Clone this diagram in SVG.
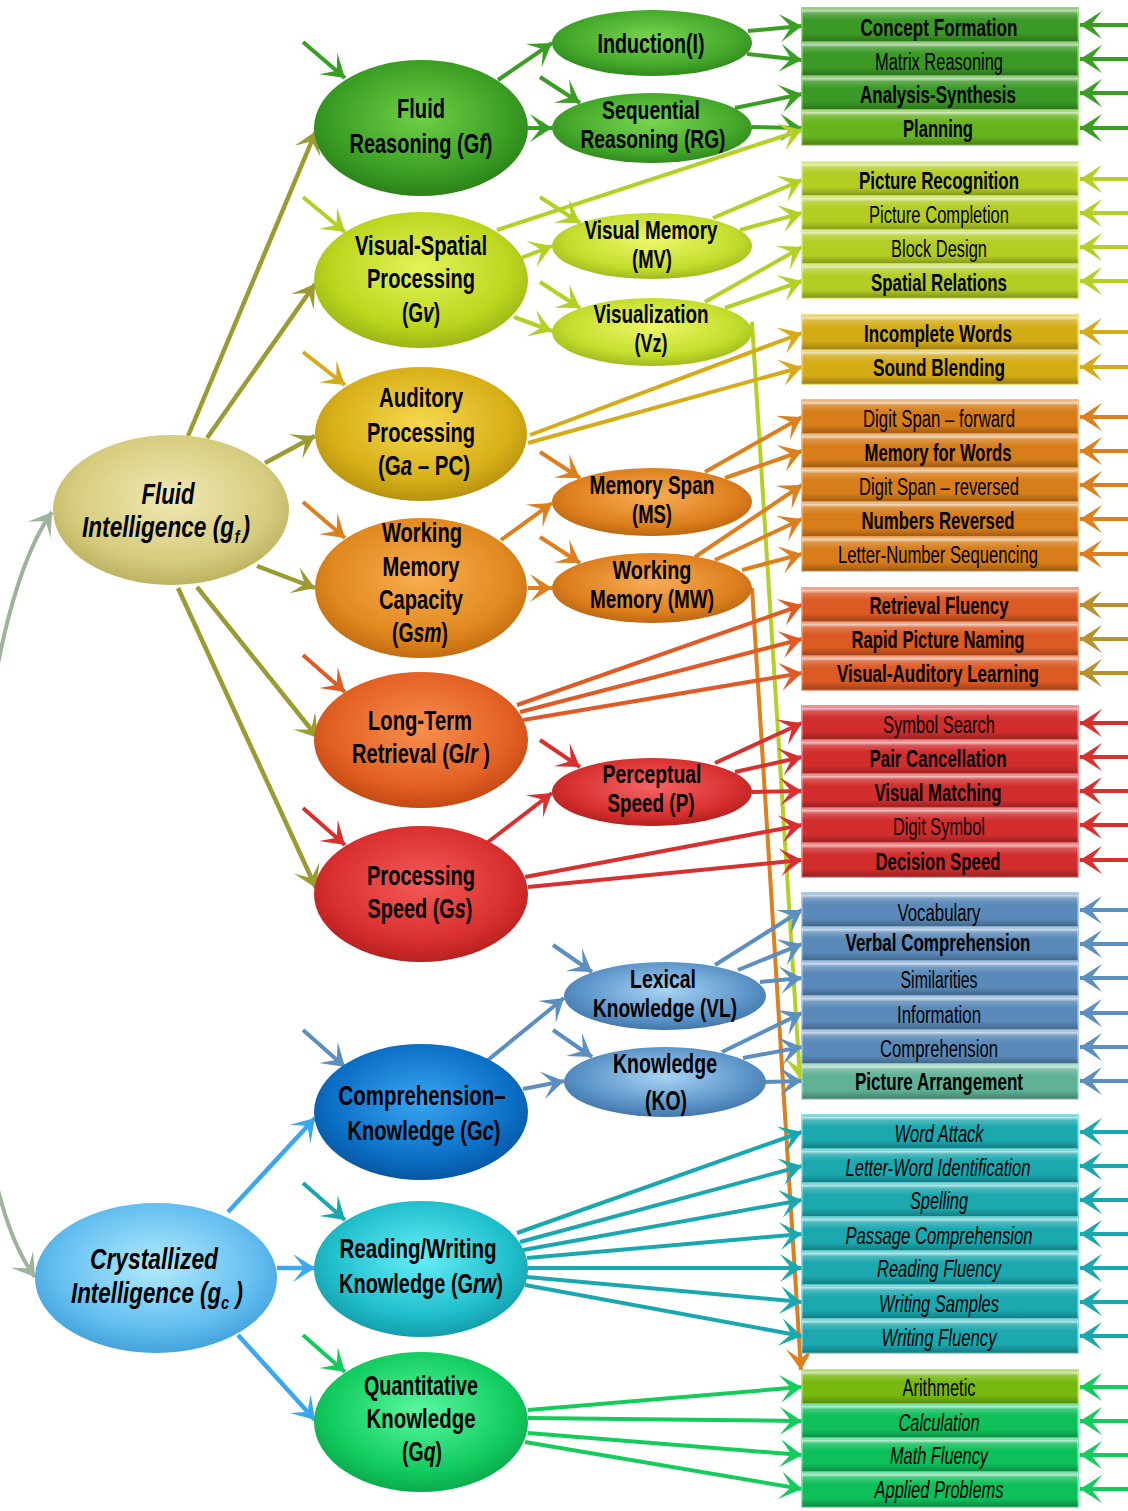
<svg xmlns="http://www.w3.org/2000/svg" width="1128" height="1511" viewBox="0 0 1128 1511">
<style>
  .c path{fill:none;stroke-width:4}
  .c path.k-olive,.c path.k-sky{stroke-width:4.5}
  .k-olive{stroke:#9a9c30;marker-end:url(#a-olive)}
  .k-sky{stroke:#3aa8ee;marker-end:url(#a-sky)}
  .k-gray{stroke:#9fb39c;marker-start:url(#a-gray);marker-end:url(#a-gray)}
  .k-green{stroke:#3a9e24;marker-end:url(#a-green)}
  .k-yg{stroke:#b5d024;marker-end:url(#a-yg)}
  .k-gold{stroke:#d5ac18;marker-end:url(#a-gold)}
  .k-orange{stroke:#dc7f1c;marker-end:url(#a-orange)}
  .k-ro{stroke:#e05a26;marker-end:url(#a-ro)}
  .k-red{stroke:#d8302e;marker-end:url(#a-red)}
  .k-steel{stroke:#5b8fc0;marker-end:url(#a-steel)}
  .k-teal{stroke:#1aa8b0;marker-end:url(#a-teal)}
  .k-green2{stroke:#14cc5c;marker-end:url(#a-green2)}
  .k-brass{stroke:#b8902c;marker-end:url(#a-brass)}
  .bx .b{stroke-width:1.5}
  .gl{fill:url(#gloss)}
  .green .b{fill:#3b9a26;stroke:#7cc85a}
  .lime .b{fill:#66b51e;stroke:#9ad85a}
  .yg .b{fill:#b4cd23;stroke:#d8ea6a}
  .gold .b{fill:#d4ac16;stroke:#ecd060}
  .orange .b{fill:#d77d19;stroke:#f0a860}
  .ro .b{fill:#dc5a23;stroke:#f08a60}
  .red .b{fill:#d22d2d;stroke:#f07070}
  .steel .b{fill:#5a8ab9;stroke:#94bce0}
  .sea .b{fill:#5fb296;stroke:#94d8c0}
  .teal .b{fill:#1ca8af;stroke:#64d4dc}
  .lime2 .b{fill:#78b90f;stroke:#aedc50}
  .green2 .b{fill:#0ec05a;stroke:#5ee09a}
  .t{font-family:"Liberation Sans",Arial,sans-serif;font-size:23px;text-anchor:middle;fill:#000}
  .bd{font-weight:bold}
  .it{font-style:italic}
  .lb{font-family:"Liberation Sans",Arial,sans-serif;font-weight:bold;font-size:28px;text-anchor:middle;fill:#000}
  .ln{font-family:"Liberation Sans",Arial,sans-serif;font-weight:bold;font-size:25px;text-anchor:middle;fill:#000}
  .lg{font-family:"Liberation Sans",Arial,sans-serif;font-weight:bold;font-style:italic;font-size:29px;text-anchor:middle;fill:#000}
  .lg.st{text-anchor:start}
  .sub{font-size:18px}
</style>
<defs>
  <linearGradient id="gloss" x1="0" y1="0" x2="0" y2="1">
    <stop offset="0" stop-color="#fff" stop-opacity="0.15"/>
    <stop offset="0.07" stop-color="#fff" stop-opacity="0.7"/>
    <stop offset="0.16" stop-color="#fff" stop-opacity="0.2"/>
    <stop offset="0.35" stop-color="#fff" stop-opacity="0"/>
    <stop offset="0.75" stop-color="#000" stop-opacity="0"/>
    <stop offset="1" stop-color="#000" stop-opacity="0.28"/>
  </linearGradient>
  <radialGradient id="g-gf" cx="0.5" cy="0.42" r="0.6"><stop offset="0" stop-color="#6fd046"/><stop offset="0.7" stop-color="#3a9e24"/><stop offset="1" stop-color="#2b7d18"/></radialGradient>
  <radialGradient id="g-gv" cx="0.5" cy="0.42" r="0.6"><stop offset="0" stop-color="#e4f45a"/><stop offset="0.7" stop-color="#bcd61e"/><stop offset="1" stop-color="#98b014"/></radialGradient>
  <radialGradient id="g-ga" cx="0.5" cy="0.42" r="0.6"><stop offset="0" stop-color="#f6d84e"/><stop offset="0.7" stop-color="#d8b018"/><stop offset="1" stop-color="#b38e0e"/></radialGradient>
  <radialGradient id="g-gsm" cx="0.5" cy="0.42" r="0.6"><stop offset="0" stop-color="#f8ae50"/><stop offset="0.7" stop-color="#e2891f"/><stop offset="1" stop-color="#bf6a10"/></radialGradient>
  <radialGradient id="g-glr" cx="0.5" cy="0.42" r="0.6"><stop offset="0" stop-color="#f8904e"/><stop offset="0.7" stop-color="#e36023"/><stop offset="1" stop-color="#c04612"/></radialGradient>
  <radialGradient id="g-gs" cx="0.5" cy="0.42" r="0.6"><stop offset="0" stop-color="#f45a58"/><stop offset="0.7" stop-color="#d9302e"/><stop offset="1" stop-color="#b31e1e"/></radialGradient>
  <radialGradient id="g-gc" cx="0.5" cy="0.42" r="0.6"><stop offset="0" stop-color="#3aa6f2"/><stop offset="0.7" stop-color="#0b6fc6"/><stop offset="1" stop-color="#07549e"/></radialGradient>
  <radialGradient id="g-grw" cx="0.5" cy="0.42" r="0.6"><stop offset="0" stop-color="#66eef8"/><stop offset="0.7" stop-color="#20bfcc"/><stop offset="1" stop-color="#1398a6"/></radialGradient>
  <radialGradient id="g-gq" cx="0.5" cy="0.42" r="0.6"><stop offset="0" stop-color="#5af8a0"/><stop offset="0.7" stop-color="#12cd60"/><stop offset="1" stop-color="#0aa64a"/></radialGradient>
  <radialGradient id="g-ni" cx="0.5" cy="0.42" r="0.6"><stop offset="0" stop-color="#78d650"/><stop offset="0.7" stop-color="#44a82a"/><stop offset="1" stop-color="#2f861c"/></radialGradient>
  <radialGradient id="g-nv" cx="0.5" cy="0.42" r="0.6"><stop offset="0" stop-color="#eef86a"/><stop offset="0.7" stop-color="#c4dd2c"/><stop offset="1" stop-color="#9db61c"/></radialGradient>
  <radialGradient id="g-nm" cx="0.5" cy="0.42" r="0.6"><stop offset="0" stop-color="#f7ad55"/><stop offset="0.7" stop-color="#de801e"/><stop offset="1" stop-color="#b96510"/></radialGradient>
  <radialGradient id="g-np" cx="0.5" cy="0.42" r="0.6"><stop offset="0" stop-color="#f76464"/><stop offset="0.7" stop-color="#d7302f"/><stop offset="1" stop-color="#b01f1f"/></radialGradient>
  <radialGradient id="g-nk" cx="0.5" cy="0.42" r="0.6"><stop offset="0" stop-color="#a8d4f4"/><stop offset="0.7" stop-color="#5b94c8"/><stop offset="1" stop-color="#3f73a6"/></radialGradient>
  <radialGradient id="g-gfi" cx="0.5" cy="0.42" r="0.6"><stop offset="0" stop-color="#f0e9b4"/><stop offset="0.7" stop-color="#d6cc7e"/><stop offset="1" stop-color="#b9ae5c"/></radialGradient>
  <radialGradient id="g-gci" cx="0.5" cy="0.42" r="0.6"><stop offset="0" stop-color="#b2ebfc"/><stop offset="0.7" stop-color="#62bef0"/><stop offset="1" stop-color="#3f9fd8"/></radialGradient>
  <marker id="a-olive" viewBox="-24 -16 26 32" refX="0" refY="0" markerWidth="26" markerHeight="32" markerUnits="userSpaceOnUse" orient="auto"><path d="M0,0 L-22,-14 L-11,0 L-22,14 Z" fill="#9a9c30"/></marker>
  <marker id="a-sky" viewBox="-24 -16 26 32" refX="0" refY="0" markerWidth="26" markerHeight="32" markerUnits="userSpaceOnUse" orient="auto"><path d="M0,0 L-22,-14 L-11,0 L-22,14 Z" fill="#3aa8ee"/></marker>
  <marker id="a-gray" viewBox="-24 -16 26 32" refX="0" refY="0" markerWidth="26" markerHeight="32" markerUnits="userSpaceOnUse" orient="auto-start-reverse"><path d="M0,0 L-22,-14 L-11,0 L-22,14 Z" fill="#9fb39c"/></marker>
  <marker id="a-green" viewBox="-24 -16 26 32" refX="0" refY="0" markerWidth="26" markerHeight="32" markerUnits="userSpaceOnUse" orient="auto"><path d="M0,0 L-22,-14 L-11,0 L-22,14 Z" fill="#3a9e24"/></marker>
  <marker id="a-yg" viewBox="-24 -16 26 32" refX="0" refY="0" markerWidth="26" markerHeight="32" markerUnits="userSpaceOnUse" orient="auto"><path d="M0,0 L-22,-14 L-11,0 L-22,14 Z" fill="#b5d024"/></marker>
  <marker id="a-gold" viewBox="-24 -16 26 32" refX="0" refY="0" markerWidth="26" markerHeight="32" markerUnits="userSpaceOnUse" orient="auto"><path d="M0,0 L-22,-14 L-11,0 L-22,14 Z" fill="#d5ac18"/></marker>
  <marker id="a-orange" viewBox="-24 -16 26 32" refX="0" refY="0" markerWidth="26" markerHeight="32" markerUnits="userSpaceOnUse" orient="auto"><path d="M0,0 L-22,-14 L-11,0 L-22,14 Z" fill="#dc7f1c"/></marker>
  <marker id="a-ro" viewBox="-24 -16 26 32" refX="0" refY="0" markerWidth="26" markerHeight="32" markerUnits="userSpaceOnUse" orient="auto"><path d="M0,0 L-22,-14 L-11,0 L-22,14 Z" fill="#e05a26"/></marker>
  <marker id="a-red" viewBox="-24 -16 26 32" refX="0" refY="0" markerWidth="26" markerHeight="32" markerUnits="userSpaceOnUse" orient="auto"><path d="M0,0 L-22,-14 L-11,0 L-22,14 Z" fill="#d8302e"/></marker>
  <marker id="a-steel" viewBox="-24 -16 26 32" refX="0" refY="0" markerWidth="26" markerHeight="32" markerUnits="userSpaceOnUse" orient="auto"><path d="M0,0 L-22,-14 L-11,0 L-22,14 Z" fill="#5b8fc0"/></marker>
  <marker id="a-teal" viewBox="-24 -16 26 32" refX="0" refY="0" markerWidth="26" markerHeight="32" markerUnits="userSpaceOnUse" orient="auto"><path d="M0,0 L-22,-14 L-11,0 L-22,14 Z" fill="#1aa8b0"/></marker>
  <marker id="a-green2" viewBox="-24 -16 26 32" refX="0" refY="0" markerWidth="26" markerHeight="32" markerUnits="userSpaceOnUse" orient="auto"><path d="M0,0 L-22,-14 L-11,0 L-22,14 Z" fill="#14cc5c"/></marker>
  <marker id="a-brass" viewBox="-24 -16 26 32" refX="0" refY="0" markerWidth="26" markerHeight="32" markerUnits="userSpaceOnUse" orient="auto"><path d="M0,0 L-22,-14 L-11,0 L-22,14 Z" fill="#b8902c"/></marker>
</defs>
<rect width="1128" height="1511" fill="#fff"/>

<g id="connectors" class="c">
  <!-- link between the two general factors -->
  <path class="k-gray" d="M52,512 C-40,640 -60,1150 35,1277"/>
  <!-- gf to broad abilities -->
  <path class="k-olive" d="M188,436 L316,131"/>
  <path class="k-olive" d="M207,438 L315,284"/>
  <path class="k-olive" d="M265,463 L315,436"/>
  <path class="k-olive" d="M257,566 L315,588"/>
  <path class="k-olive" d="M197,587 L318,738"/>
  <path class="k-olive" d="M178,588 L316,888"/>
  <!-- gc to broad abilities -->
  <path class="k-sky" d="M228,1212 L315,1118"/>
  <path class="k-sky" d="M277,1268 L315,1268"/>
  <path class="k-sky" d="M238,1335 L315,1420"/>
  <!-- short inputs on broad abilities -->
  <path class="k-green" d="M303,42 L345,78"/>
  <path class="k-yg" d="M303,197 L345,232"/>
  <path class="k-gold" d="M303,352 L345,385"/>
  <path class="k-orange" d="M303,502 L345,538"/>
  <path class="k-ro" d="M303,655 L345,692"/>
  <path class="k-red" d="M303,808 L345,845"/>
  <path class="k-steel" d="M303,1030 L345,1067"/>
  <path class="k-teal" d="M303,1183 L345,1220"/>
  <path class="k-green2" d="M303,1335 L345,1372"/>
  <!-- short inputs on narrow abilities -->
  <path class="k-green" d="M540,77 L580,103"/>
  <path class="k-yg" d="M540,197 L580,223"/>
  <path class="k-yg" d="M540,282 L580,308"/>
  <path class="k-orange" d="M540,452 L580,478"/>
  <path class="k-orange" d="M540,537 L580,563"/>
  <path class="k-red" d="M540,740 L580,767"/>
  <path class="k-steel" d="M553,945 L592,972"/>
  <path class="k-steel" d="M553,1030 L592,1057"/>
  <!-- broad to narrow abilities -->
  <path class="k-green" d="M498,80 L552,43"/>
  <path class="k-green" d="M528,128 L552,128"/>
  <path class="k-yg" d="M521,258 L552,246"/>
  <path class="k-yg" d="M514,317 L552,331"/>
  <path class="k-orange" d="M501,540 L552,503"/>
  <path class="k-orange" d="M528,588 L552,588"/>
  <path class="k-red" d="M488,842 L552,793"/>
  <path class="k-steel" d="M488,1060 L564,998"/>
  <path class="k-steel" d="M523,1089 L564,1081"/>
  <!-- abilities to tests -->
  <path class="k-green" d="M748,31 L802,26"/>
  <path class="k-green" d="M747,54 L802,60"/>
  <path class="k-green" d="M735,108 L802,94"/>
  <path class="k-green" d="M752,127 L802,128"/>
  <path class="k-yg" d="M497,230 L802,130"/>
  <path class="k-yg" d="M713,218 L802,180"/>
  <path class="k-yg" d="M740,230 L802,213"/>
  <path class="k-yg" d="M705,302 L802,247"/>
  <path class="k-yg" d="M725,308 L802,281"/>
  <path class="k-yg" d="M752,322 L800,1079"/>
  <path class="k-gold" d="M530,435 L802,333"/>
  <path class="k-gold" d="M528,443 L802,367"/>
  <path class="k-orange" d="M705,472 L802,417"/>
  <path class="k-orange" d="M725,478 L802,451"/>
  <path class="k-orange" d="M695,557 L802,485"/>
  <path class="k-orange" d="M715,560 L802,519"/>
  <path class="k-orange" d="M742,570 L802,554"/>
  <path class="k-orange" d="M752,588 L801,1370"/>
  <path class="k-ro" d="M517,705 L802,605"/>
  <path class="k-ro" d="M520,712 L802,639"/>
  <path class="k-ro" d="M523,720 L802,673"/>
  <path class="k-red" d="M715,763 L802,723"/>
  <path class="k-red" d="M735,772 L802,757"/>
  <path class="k-red" d="M752,792 L802,791"/>
  <path class="k-red" d="M525,877 L802,825"/>
  <path class="k-red" d="M528,887 L802,860"/>
  <path class="k-steel" d="M715,965 L802,910"/>
  <path class="k-steel" d="M738,970 L802,944"/>
  <path class="k-steel" d="M760,982 L802,978"/>
  <path class="k-steel" d="M722,1052 L802,1013"/>
  <path class="k-steel" d="M743,1058 L802,1047"/>
  <path class="k-steel" d="M765,1082 L802,1081"/>
  <path class="k-teal" d="M517,1233 L802,1132"/>
  <path class="k-teal" d="M520,1242 L802,1166"/>
  <path class="k-teal" d="M523,1250 L802,1200"/>
  <path class="k-teal" d="M527,1258 L802,1234"/>
  <path class="k-teal" d="M528,1268 L802,1268"/>
  <path class="k-teal" d="M527,1277 L802,1302"/>
  <path class="k-teal" d="M525,1285 L802,1336"/>
  <path class="k-green2" d="M528,1410 L802,1387"/>
  <path class="k-green2" d="M528,1418 L802,1421"/>
  <path class="k-green2" d="M528,1433 L802,1455"/>
  <path class="k-green2" d="M525,1442 L802,1489"/>
  <!-- error terms on the tests -->
  <path class="k-green" d="M1128,25 L1080,25"/>
  <path class="k-green" d="M1128,59 L1080,59"/>
  <path class="k-green" d="M1128,93 L1080,93"/>
  <path class="k-green" d="M1128,128 L1080,128"/>
  <path class="k-yg" d="M1128,179 L1080,179"/>
  <path class="k-yg" d="M1128,213 L1080,213"/>
  <path class="k-yg" d="M1128,247 L1080,247"/>
  <path class="k-yg" d="M1128,281 L1080,281"/>
  <path class="k-gold" d="M1128,332 L1080,332"/>
  <path class="k-gold" d="M1128,367 L1080,367"/>
  <path class="k-orange" d="M1128,417 L1080,417"/>
  <path class="k-orange" d="M1128,451 L1080,451"/>
  <path class="k-orange" d="M1128,485 L1080,485"/>
  <path class="k-orange" d="M1128,519 L1080,519"/>
  <path class="k-orange" d="M1128,554 L1080,554"/>
  <path class="k-brass" d="M1128,605 L1080,605"/>
  <path class="k-brass" d="M1128,639 L1080,639"/>
  <path class="k-brass" d="M1128,673 L1080,673"/>
  <path class="k-red" d="M1128,723 L1080,723"/>
  <path class="k-red" d="M1128,757 L1080,757"/>
  <path class="k-red" d="M1128,791 L1080,791"/>
  <path class="k-red" d="M1128,825 L1080,825"/>
  <path class="k-red" d="M1128,860 L1080,860"/>
  <path class="k-steel" d="M1128,910 L1080,910"/>
  <path class="k-steel" d="M1128,944 L1080,944"/>
  <path class="k-steel" d="M1128,978 L1080,978"/>
  <path class="k-steel" d="M1128,1013 L1080,1013"/>
  <path class="k-steel" d="M1128,1047 L1080,1047"/>
  <path class="k-steel" d="M1128,1081 L1080,1081"/>
  <path class="k-teal" d="M1128,1132 L1080,1132"/>
  <path class="k-teal" d="M1128,1166 L1080,1166"/>
  <path class="k-teal" d="M1128,1200 L1080,1200"/>
  <path class="k-teal" d="M1128,1234 L1080,1234"/>
  <path class="k-teal" d="M1128,1268 L1080,1268"/>
  <path class="k-teal" d="M1128,1302 L1080,1302"/>
  <path class="k-teal" d="M1128,1336 L1080,1336"/>
  <path class="k-green2" d="M1128,1387 L1080,1387"/>
  <path class="k-green2" d="M1128,1421 L1080,1421"/>
  <path class="k-green2" d="M1128,1455 L1080,1455"/>
  <path class="k-green2" d="M1128,1489 L1080,1489"/>
</g>

<!-- general factors -->
<g id="fluid-intelligence">
  <ellipse cx="171" cy="510" rx="118" ry="75" fill="url(#g-gfi)"/>
  <text class="lg" x="168" y="504" textLength="53" lengthAdjust="spacingAndGlyphs">Fluid</text>
  <text class="lg st" transform="translate(82,537) scale(0.78,1)">Intelligence (g<tspan class="sub" dy="6" dx="1">f</tspan><tspan dy="-6" dx="4">)</tspan></text>
</g>
<g id="crystallized-intelligence">
  <ellipse cx="156" cy="1278" rx="121" ry="75" fill="url(#g-gci)"/>
  <text class="lg" x="154" y="1269" textLength="128" lengthAdjust="spacingAndGlyphs">Crystallized</text>
  <text class="lg st" transform="translate(71,1303) scale(0.77,1)">Intelligence (g<tspan class="sub" dy="6" style="font-size:19px">c</tspan><tspan dy="-6"> )</tspan></text>
</g>

<!-- broad abilities -->
<g id="fluid-reasoning">
  <ellipse cx="421" cy="128" rx="107" ry="68" fill="url(#g-gf)"/>
  <text class="lb" x="421" y="118" textLength="48" lengthAdjust="spacingAndGlyphs">Fluid</text>
  <text class="lb" transform="translate(421,153) scale(0.713,1)">Reasoning (G<tspan class="it">f</tspan>)</text>
</g>
<g id="visual-spatial-processing">
  <ellipse cx="421" cy="280" rx="107" ry="68" fill="url(#g-gv)"/>
  <text class="lb" x="421" y="255" textLength="132" lengthAdjust="spacingAndGlyphs">Visual-Spatial</text>
  <text class="lb" x="421" y="288" textLength="108" lengthAdjust="spacingAndGlyphs">Processing</text>
  <text class="lb" transform="translate(421,322) scale(0.68,1)">(G<tspan class="it">v</tspan>)</text>
</g>
<g id="auditory-processing">
  <ellipse cx="421" cy="434" rx="106" ry="67" fill="url(#g-ga)"/>
  <text class="lb" x="421" y="407" textLength="84" lengthAdjust="spacingAndGlyphs">Auditory</text>
  <text class="lb" x="421" y="442" textLength="108" lengthAdjust="spacingAndGlyphs">Processing</text>
  <text class="lb" transform="translate(424,475) scale(0.73,1)">(G<tspan class="it">a</tspan> – PC)</text>
</g>
<g id="working-memory-capacity">
  <ellipse cx="421" cy="588" rx="106" ry="70" fill="url(#g-gsm)"/>
  <text class="lb" x="422" y="542" textLength="80" lengthAdjust="spacingAndGlyphs">Working</text>
  <text class="lb" x="421" y="576" textLength="77" lengthAdjust="spacingAndGlyphs">Memory</text>
  <text class="lb" x="421" y="609" textLength="84" lengthAdjust="spacingAndGlyphs">Capacity</text>
  <text class="lb" transform="translate(420,642) scale(0.692,1)">(G<tspan class="it">sm</tspan>)</text>
</g>
<g id="long-term-retrieval">
  <ellipse cx="421" cy="740" rx="107" ry="68" fill="url(#g-glr)"/>
  <text class="lb" x="420" y="730" textLength="104" lengthAdjust="spacingAndGlyphs">Long-Term</text>
  <text class="lb" transform="translate(421,763) scale(0.715,1)">Retrieval (G<tspan class="it">lr</tspan> )</text>
</g>
<g id="processing-speed">
  <ellipse cx="421" cy="894" rx="107" ry="68" fill="url(#g-gs)"/>
  <text class="lb" x="421" y="885" textLength="108" lengthAdjust="spacingAndGlyphs">Processing</text>
  <text class="lb" transform="translate(420,918) scale(0.71,1)">Speed (G<tspan class="it">s</tspan>)</text>
</g>
<g id="comprehension-knowledge">
  <ellipse cx="421" cy="1112" rx="107" ry="68" fill="url(#g-gc)"/>
  <text class="lb" x="422" y="1105" textLength="167" lengthAdjust="spacingAndGlyphs">Comprehension–</text>
  <text class="lb" transform="translate(424,1140) scale(0.718,1)">Knowledge (G<tspan class="it">c</tspan>)</text>
</g>
<g id="reading-writing-knowledge">
  <ellipse cx="421" cy="1269" rx="107" ry="68" fill="url(#g-grw)"/>
  <text class="lb" x="418" y="1258" textLength="157" lengthAdjust="spacingAndGlyphs">Reading/Writing</text>
  <text class="lb" transform="translate(421,1293) scale(0.712,1)">Knowledge (G<tspan class="it">rw</tspan>)</text>
</g>
<g id="quantitative-knowledge">
  <ellipse cx="421" cy="1422" rx="107" ry="70" fill="url(#g-gq)"/>
  <text class="lb" x="421" y="1395" textLength="114" lengthAdjust="spacingAndGlyphs">Quantitative</text>
  <text class="lb" x="421" y="1428" textLength="109" lengthAdjust="spacingAndGlyphs">Knowledge</text>
  <text class="lb" transform="translate(422,1461) scale(0.695,1)">(G<tspan class="it">q</tspan>)</text>
</g>

<!-- narrow abilities -->
<g id="induction">
  <ellipse cx="652" cy="43" rx="100" ry="33" fill="url(#g-ni)"/>
  <text class="ln" x="651" y="53" textLength="107" lengthAdjust="spacingAndGlyphs" style="font-size:27px">Induction(I)</text>
</g>
<g id="sequential-reasoning">
  <ellipse cx="652" cy="128" rx="100" ry="35" fill="url(#g-ni)"/>
  <text class="ln" x="651" y="119" textLength="98" lengthAdjust="spacingAndGlyphs">Sequential</text>
  <text class="ln" x="653" y="148" textLength="145" lengthAdjust="spacingAndGlyphs">Reasoning (RG)</text>
</g>
<g id="visual-memory">
  <ellipse cx="652" cy="246" rx="100" ry="33" fill="url(#g-nv)"/>
  <text class="ln" x="651" y="239" textLength="133" lengthAdjust="spacingAndGlyphs">Visual Memory</text>
  <text class="ln" x="652" y="268" textLength="40" lengthAdjust="spacingAndGlyphs">(MV)</text>
</g>
<g id="visualization">
  <ellipse cx="652" cy="332" rx="100" ry="34" fill="url(#g-nv)"/>
  <text class="ln" x="651" y="323" textLength="115" lengthAdjust="spacingAndGlyphs">Visualization</text>
  <text class="ln" x="651" y="352" textLength="33" lengthAdjust="spacingAndGlyphs">(Vz)</text>
</g>
<g id="memory-span">
  <ellipse cx="652" cy="502" rx="100" ry="34" fill="url(#g-nm)"/>
  <text class="ln" x="652" y="494" textLength="125" lengthAdjust="spacingAndGlyphs">Memory Span</text>
  <text class="ln" x="652" y="523" textLength="40" lengthAdjust="spacingAndGlyphs">(MS)</text>
</g>
<g id="working-memory">
  <ellipse cx="652" cy="588" rx="100" ry="35" fill="url(#g-nm)"/>
  <text class="ln" x="652" y="579" textLength="79" lengthAdjust="spacingAndGlyphs">Working</text>
  <text class="ln" x="652" y="608" textLength="124" lengthAdjust="spacingAndGlyphs">Memory (MW)</text>
</g>
<g id="perceptual-speed">
  <ellipse cx="652" cy="792" rx="100" ry="34" fill="url(#g-np)"/>
  <text class="ln" x="652" y="783" textLength="99" lengthAdjust="spacingAndGlyphs">Perceptual</text>
  <text class="ln" x="651" y="812" textLength="87" lengthAdjust="spacingAndGlyphs">Speed (P)</text>
</g>
<g id="lexical-knowledge">
  <ellipse cx="665" cy="996" rx="101" ry="34" fill="url(#g-nk)"/>
  <text class="ln" x="663" y="988" textLength="66" lengthAdjust="spacingAndGlyphs">Lexical</text>
  <text class="ln" x="665" y="1017" textLength="144" lengthAdjust="spacingAndGlyphs">Knowledge (VL)</text>
</g>
<g id="general-knowledge">
  <ellipse cx="665" cy="1082" rx="101" ry="35" fill="url(#g-nk)"/>
  <text class="ln" x="665" y="1073" textLength="104" lengthAdjust="spacingAndGlyphs" style="font-size:27px">Knowledge</text>
  <text class="ln" x="666" y="1110" textLength="42" lengthAdjust="spacingAndGlyphs" style="font-size:27px">(KO)</text>
</g>

<!-- tests -->
<g id="t-concept-formation" class="bx green"><rect class="b" x="802" y="8" width="276" height="34"/><rect class="gl" x="802" y="8" width="276" height="34"/><text class="t bd" x="939" y="36" textLength="157" lengthAdjust="spacingAndGlyphs">Concept Formation</text></g>
<g id="t-matrix-reasoning" class="bx green"><rect class="b" x="802" y="42" width="276" height="34"/><rect class="gl" x="802" y="42" width="276" height="34"/><text class="t" x="939" y="70" textLength="128" lengthAdjust="spacingAndGlyphs">Matrix Reasoning</text></g>
<g id="t-analysis-synthesis" class="bx green"><rect class="b" x="802" y="76" width="276" height="34"/><rect class="gl" x="802" y="76" width="276" height="34"/><text class="t bd" x="938" y="103" textLength="156" lengthAdjust="spacingAndGlyphs">Analysis-Synthesis</text></g>
<g id="t-planning" class="bx lime"><rect class="b" x="802" y="110" width="276" height="35"/><rect class="gl" x="802" y="110" width="276" height="35"/><text class="t bd" x="938" y="137" textLength="70" lengthAdjust="spacingAndGlyphs">Planning</text></g>

<g id="t-picture-recognition" class="bx yg"><rect class="b" x="802" y="162" width="276" height="34"/><rect class="gl" x="802" y="162" width="276" height="34"/><text class="t bd" x="939" y="189" textLength="160" lengthAdjust="spacingAndGlyphs">Picture Recognition</text></g>
<g id="t-picture-completion" class="bx yg"><rect class="b" x="802" y="196" width="276" height="34"/><rect class="gl" x="802" y="196" width="276" height="34"/><text class="t" x="939" y="223" textLength="140" lengthAdjust="spacingAndGlyphs">Picture Completion</text></g>
<g id="t-block-design" class="bx yg"><rect class="b" x="802" y="230" width="276" height="34"/><rect class="gl" x="802" y="230" width="276" height="34"/><text class="t" x="939" y="257" textLength="96" lengthAdjust="spacingAndGlyphs">Block Design</text></g>
<g id="t-spatial-relations" class="bx yg"><rect class="b" x="802" y="264" width="276" height="34"/><rect class="gl" x="802" y="264" width="276" height="34"/><text class="t bd" x="939" y="291" textLength="136" lengthAdjust="spacingAndGlyphs">Spatial Relations</text></g>

<g id="t-incomplete-words" class="bx gold"><rect class="b" x="802" y="315" width="276" height="35"/><rect class="gl" x="802" y="315" width="276" height="35"/><text class="t bd" x="938" y="342" textLength="148" lengthAdjust="spacingAndGlyphs">Incomplete Words</text></g>
<g id="t-sound-blending" class="bx gold"><rect class="b" x="802" y="350" width="276" height="34"/><rect class="gl" x="802" y="350" width="276" height="34"/><text class="t bd" x="939" y="376" textLength="132" lengthAdjust="spacingAndGlyphs">Sound Blending</text></g>

<g id="t-digit-span-forward" class="bx orange"><rect class="b" x="802" y="400" width="276" height="34"/><rect class="gl" x="802" y="400" width="276" height="34"/><text class="t" x="939" y="427" textLength="152" lengthAdjust="spacingAndGlyphs">Digit Span – forward</text></g>
<g id="t-memory-for-words" class="bx orange"><rect class="b" x="802" y="434" width="276" height="34"/><rect class="gl" x="802" y="434" width="276" height="34"/><text class="t bd" x="938" y="461" textLength="147" lengthAdjust="spacingAndGlyphs">Memory for Words</text></g>
<g id="t-digit-span-reversed" class="bx orange"><rect class="b" x="802" y="468" width="276" height="34"/><rect class="gl" x="802" y="468" width="276" height="34"/><text class="t" x="939" y="495" textLength="160" lengthAdjust="spacingAndGlyphs">Digit Span – reversed</text></g>
<g id="t-numbers-reversed" class="bx orange"><rect class="b" x="802" y="502" width="276" height="35"/><rect class="gl" x="802" y="502" width="276" height="35"/><text class="t bd" x="938" y="529" textLength="153" lengthAdjust="spacingAndGlyphs">Numbers Reversed</text></g>
<g id="t-letter-number-sequencing" class="bx orange"><rect class="b" x="802" y="537" width="276" height="34"/><rect class="gl" x="802" y="537" width="276" height="34"/><text class="t" x="938" y="563" textLength="200" lengthAdjust="spacingAndGlyphs">Letter-Number Sequencing</text></g>

<g id="t-retrieval-fluency" class="bx ro"><rect class="b" x="802" y="588" width="276" height="34"/><rect class="gl" x="802" y="588" width="276" height="34"/><text class="t bd" x="939" y="614" textLength="139" lengthAdjust="spacingAndGlyphs">Retrieval Fluency</text></g>
<g id="t-rapid-picture-naming" class="bx ro"><rect class="b" x="802" y="622" width="276" height="34"/><rect class="gl" x="802" y="622" width="276" height="34"/><text class="t bd" x="938" y="648" textLength="173" lengthAdjust="spacingAndGlyphs">Rapid Picture Naming</text></g>
<g id="t-visual-auditory-learning" class="bx ro"><rect class="b" x="802" y="656" width="276" height="34"/><rect class="gl" x="802" y="656" width="276" height="34"/><text class="t bd" x="938" y="682" textLength="202" lengthAdjust="spacingAndGlyphs">Visual-Auditory Learning</text></g>

<g id="t-symbol-search" class="bx red"><rect class="b" x="802" y="706" width="276" height="34"/><rect class="gl" x="802" y="706" width="276" height="34"/><text class="t" x="939" y="733" textLength="112" lengthAdjust="spacingAndGlyphs">Symbol Search</text></g>
<g id="t-pair-cancellation" class="bx red"><rect class="b" x="802" y="740" width="276" height="34"/><rect class="gl" x="802" y="740" width="276" height="34"/><text class="t bd" x="938" y="767" textLength="137" lengthAdjust="spacingAndGlyphs">Pair Cancellation</text></g>
<g id="t-visual-matching" class="bx red"><rect class="b" x="802" y="774" width="276" height="34"/><rect class="gl" x="802" y="774" width="276" height="34"/><text class="t bd" x="938" y="801" textLength="127" lengthAdjust="spacingAndGlyphs">Visual Matching</text></g>
<g id="t-digit-symbol" class="bx red"><rect class="b" x="802" y="808" width="276" height="35"/><rect class="gl" x="802" y="808" width="276" height="35"/><text class="t" x="939" y="835" textLength="92" lengthAdjust="spacingAndGlyphs">Digit Symbol</text></g>
<g id="t-decision-speed" class="bx red"><rect class="b" x="802" y="843" width="276" height="34"/><rect class="gl" x="802" y="843" width="276" height="34"/><text class="t bd" x="938" y="870" textLength="125" lengthAdjust="spacingAndGlyphs">Decision Speed</text></g>

<g id="t-vocabulary" class="bx steel"><rect class="b" x="802" y="893" width="276" height="34"/><rect class="gl" x="802" y="893" width="276" height="34"/><text class="t" x="939" y="921" textLength="83" lengthAdjust="spacingAndGlyphs">Vocabulary</text></g>
<g id="t-verbal-comprehension" class="bx steel"><rect class="b" x="802" y="927" width="276" height="34"/><rect class="gl" x="802" y="927" width="276" height="34"/><text class="t bd" x="938" y="951" textLength="185" lengthAdjust="spacingAndGlyphs">Verbal Comprehension</text></g>
<g id="t-similarities" class="bx steel"><rect class="b" x="802" y="961" width="276" height="35"/><rect class="gl" x="802" y="961" width="276" height="35"/><text class="t" x="939" y="988" textLength="77" lengthAdjust="spacingAndGlyphs">Similarities</text></g>
<g id="t-information" class="bx steel"><rect class="b" x="802" y="996" width="276" height="34"/><rect class="gl" x="802" y="996" width="276" height="34"/><text class="t" x="939" y="1023" textLength="84" lengthAdjust="spacingAndGlyphs">Information</text></g>
<g id="t-comprehension" class="bx steel"><rect class="b" x="802" y="1030" width="276" height="34"/><rect class="gl" x="802" y="1030" width="276" height="34"/><text class="t" x="939" y="1057" textLength="118" lengthAdjust="spacingAndGlyphs">Comprehension</text></g>
<g id="t-picture-arrangement" class="bx sea"><rect class="b" x="802" y="1064" width="276" height="35"/><rect class="gl" x="802" y="1064" width="276" height="35"/><text class="t bd" x="939" y="1090" textLength="168" lengthAdjust="spacingAndGlyphs">Picture Arrangement</text></g>

<g id="t-word-attack" class="bx teal"><rect class="b" x="802" y="1115" width="276" height="34"/><rect class="gl" x="802" y="1115" width="276" height="34"/><text class="t it" x="939" y="1142" textLength="89" lengthAdjust="spacingAndGlyphs">Word Attack</text></g>
<g id="t-letter-word-identification" class="bx teal"><rect class="b" x="802" y="1149" width="276" height="34"/><rect class="gl" x="802" y="1149" width="276" height="34"/><text class="t it" x="938" y="1176" textLength="185" lengthAdjust="spacingAndGlyphs">Letter-Word Identification</text></g>
<g id="t-spelling" class="bx teal"><rect class="b" x="802" y="1183" width="276" height="34"/><rect class="gl" x="802" y="1183" width="276" height="34"/><text class="t it" x="939" y="1209" textLength="58" lengthAdjust="spacingAndGlyphs">Spelling</text></g>
<g id="t-passage-comprehension" class="bx teal"><rect class="b" x="802" y="1217" width="276" height="34"/><rect class="gl" x="802" y="1217" width="276" height="34"/><text class="t it" x="939" y="1244" textLength="187" lengthAdjust="spacingAndGlyphs">Passage Comprehension</text></g>
<g id="t-reading-fluency" class="bx teal"><rect class="b" x="802" y="1251" width="276" height="34"/><rect class="gl" x="802" y="1251" width="276" height="34"/><text class="t it" x="939" y="1277" textLength="124" lengthAdjust="spacingAndGlyphs">Reading Fluency</text></g>
<g id="t-writing-samples" class="bx teal"><rect class="b" x="802" y="1285" width="276" height="34"/><rect class="gl" x="802" y="1285" width="276" height="34"/><text class="t it" x="939" y="1312" textLength="120" lengthAdjust="spacingAndGlyphs">Writing Samples</text></g>
<g id="t-writing-fluency" class="bx teal"><rect class="b" x="802" y="1319" width="276" height="34"/><rect class="gl" x="802" y="1319" width="276" height="34"/><text class="t it" x="939" y="1346" textLength="115" lengthAdjust="spacingAndGlyphs">Writing Fluency</text></g>

<g id="t-arithmetic" class="bx lime2"><rect class="b" x="802" y="1370" width="276" height="34"/><rect class="gl" x="802" y="1370" width="276" height="34"/><text class="t" x="939" y="1396" textLength="73" lengthAdjust="spacingAndGlyphs">Arithmetic</text></g>
<g id="t-calculation" class="bx green2"><rect class="b" x="802" y="1404" width="276" height="34"/><rect class="gl" x="802" y="1404" width="276" height="34"/><text class="t it" x="939" y="1431" textLength="81" lengthAdjust="spacingAndGlyphs">Calculation</text></g>
<g id="t-math-fluency" class="bx green2"><rect class="b" x="802" y="1438" width="276" height="34"/><rect class="gl" x="802" y="1438" width="276" height="34"/><text class="t it" x="939" y="1464" textLength="98" lengthAdjust="spacingAndGlyphs">Math Fluency</text></g>
<g id="t-applied-problems" class="bx green2"><rect class="b" x="802" y="1472" width="276" height="35"/><rect class="gl" x="802" y="1472" width="276" height="35"/><text class="t it" x="939" y="1498" textLength="129" lengthAdjust="spacingAndGlyphs">Applied Problems</text></g>
</svg>
